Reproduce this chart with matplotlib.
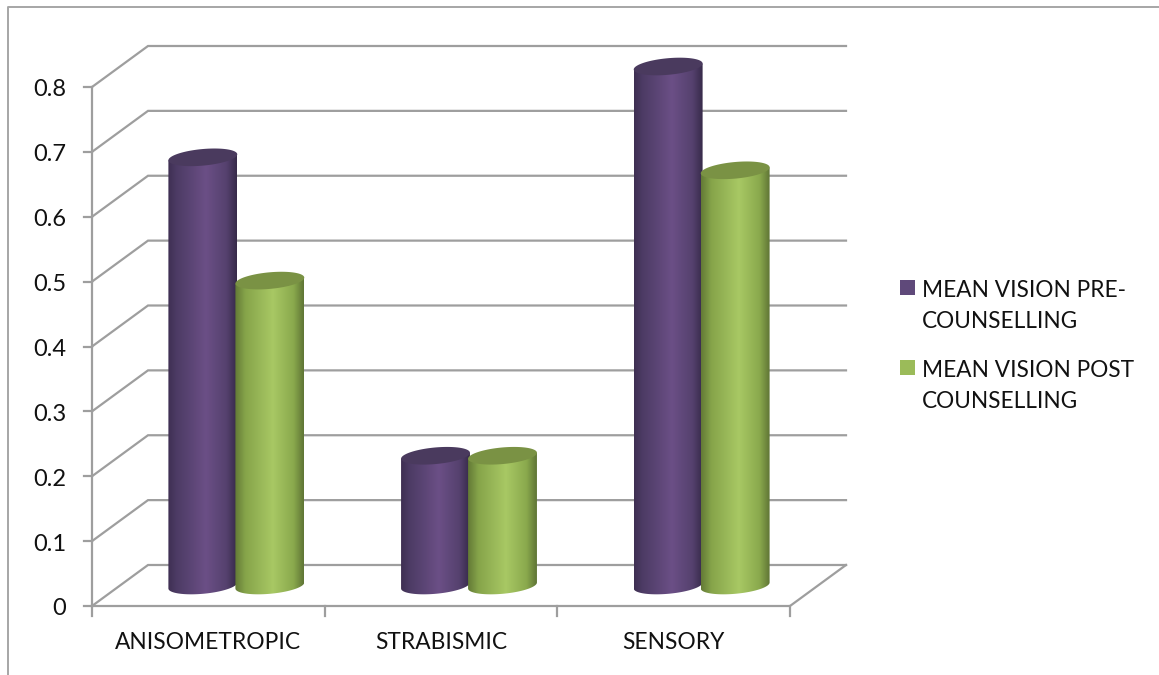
# 3D style cylinder chart of mean vision before and after counselling
import matplotlib
matplotlib.use('Agg')
import matplotlib.pyplot as plt
import numpy as np
from matplotlib.colors import LinearSegmentedColormap
from matplotlib.lines import Line2D
from matplotlib.patches import PathPatch, Polygon, Rectangle
from matplotlib.path import Path

plt.rcParams['font.family'] = ['Lato', 'DejaVu Sans']

# Data
categories = ['ANISOMETROPIC', 'STRABISMIC', 'SENSORY']
series_names = ['MEAN VISION PRE-\nCOUNSELLING', 'MEAN VISION POST\nCOUNSELLING']
pre_values = [0.66, 0.20, 0.80]
post_values = [0.47, 0.20, 0.64]
y_ticks = [0, 0.1, 0.2, 0.3, 0.4, 0.5, 0.6, 0.7, 0.8]

W, H = 1159, 675
GRID = '#9e9e9e'

# Offset of the back wall from the front plane, in data units
DEPTH_X = 0.2407
DEPTH_Y = 0.0632
BAR_W = 0.296
BAR_OFFSET = 0.144
ELL_B = 0.0128  # half height of the cylinder caps
ELL_S = 0.0046  # tilt of the cylinder caps

purple_map = LinearSegmentedColormap.from_list('purple', [
    (0.0, '#3e2f52'), (0.12, '#4c3b64'), (0.55, '#6b4f86'),
    (0.85, '#55416e'), (1.0, '#372a49')])
green_map = LinearSegmentedColormap.from_list('green', [
    (0.0, '#637a36'), (0.15, '#86a44a'), (0.55, '#a8c864'),
    (0.85, '#8aa94d'), (1.0, '#5f7535')])
CAP_COLORS = ['#4a3a5e', '#7a9244']
SWATCH_COLORS = ['#5f497a', '#9bbb59']

fig = plt.figure(figsize=(W / 100, H / 100), dpi=100)
ax = fig.add_axes([92 / W, (H - 606) / H, 698 / W, 519 / H])
ax.set_xlim(0, 3)
ax.set_ylim(0, 0.8)
ax.axis('off')

# Outer chart border
fig.add_artist(Line2D([8 / W, 8 / W, 1], [0, 1 - 7 / H, 1 - 7 / H], color='#a6a6a6', lw=1.4))

# Gridlines run across the side wall and along the back wall
for t in y_ticks:
    ax.plot([0, DEPTH_X, 3 + DEPTH_X], [t, t + DEPTH_Y, t + DEPTH_Y],
            color=GRID, lw=1.6, clip_on=False, zorder=1, solid_joinstyle='miter')
    ax.plot([-0.034, 0], [t, t], color=GRID, lw=1.6, clip_on=False, zorder=1)
    ax.text(-0.11, t - 0.0045, str(t), ha='right', va='center', fontsize=17, color='#111111')

# Front edges of the floor and the value axis
ax.plot([0, 0], [0, 0.8], color=GRID, lw=1.6, clip_on=False, zorder=1)
ax.plot([0, 3, 3 + DEPTH_X], [0, 0, DEPTH_Y], color=GRID, lw=1.6, clip_on=False, zorder=1)
for i in range(4):
    ax.plot([i, i], [0, -0.0154], color=GRID, lw=1.6, clip_on=False, zorder=1)

for i, name in enumerate(categories):
    ax.text(i + 0.5, -0.0565, name, ha='center', va='center', fontsize=16.4, color='#111111')


def cylinder(cx, value, cmap, cap_color, z):
    # Bars stand halfway into the floor depth
    x_mid = cx + DEPTH_X / 2
    y_base = DEPTH_Y / 2
    y_top = y_base + value
    a = BAR_W / 2

    t = np.linspace(np.pi, 2 * np.pi, 60)
    base_x = x_mid + a * np.cos(t)
    base_y = y_base + ELL_B * np.sin(t) + ELL_S * np.cos(t)
    body = np.column_stack([
        np.r_[base_x, x_mid + a, x_mid - a],
        np.r_[base_y, y_top + ELL_S, y_top - ELL_S],
    ])
    clip = PathPatch(Path(body), transform=ax.transData, fc='none', ec='none', clip_on=False)
    ax.add_patch(clip)
    img = ax.imshow(np.linspace(0, 1, 256).reshape(1, -1), cmap=cmap, vmin=0, vmax=1,
                    extent=[x_mid - a, x_mid + a, y_base - 0.03, y_top + 0.03],
                    aspect='auto', zorder=z, interpolation='bilinear')
    # The tallest cylinder rises past the top of the axes box
    img.set_clip_box(fig.bbox)
    img.set_clip_path(clip)

    t = np.linspace(0, 2 * np.pi, 120)
    cap = np.column_stack([x_mid + a * np.cos(t),
                           y_top + ELL_B * np.sin(t) + ELL_S * np.cos(t)])
    ax.add_patch(Polygon(cap, closed=True, fc=cap_color, ec='none', zorder=z + 0.1, clip_on=False))


for i in range(len(categories)):
    cylinder(i + 0.5 - BAR_OFFSET, pre_values[i], purple_map, CAP_COLORS[0], 3 + 2 * i)
    cylinder(i + 0.5 + BAR_OFFSET, post_values[i], green_map, CAP_COLORS[1], 4 + 2 * i)

ax.set_xlim(0, 3)
ax.set_ylim(0, 0.8)

# Legend
for name, color, top, mid in zip(series_names, SWATCH_COLORS, [280, 360], [306, 386]):
    fig.add_artist(Rectangle((900 / W, 1 - (top + 15) / H), 15 / W, 15 / H,
                             transform=fig.transFigure, fc=color, ec='none'))
    fig.text(922 / W, 1 - mid / H, name, ha='left', va='center', fontsize=16.3,
             color='#111111', linespacing=1.6)

plt.savefig('out.png', dpi=100)
